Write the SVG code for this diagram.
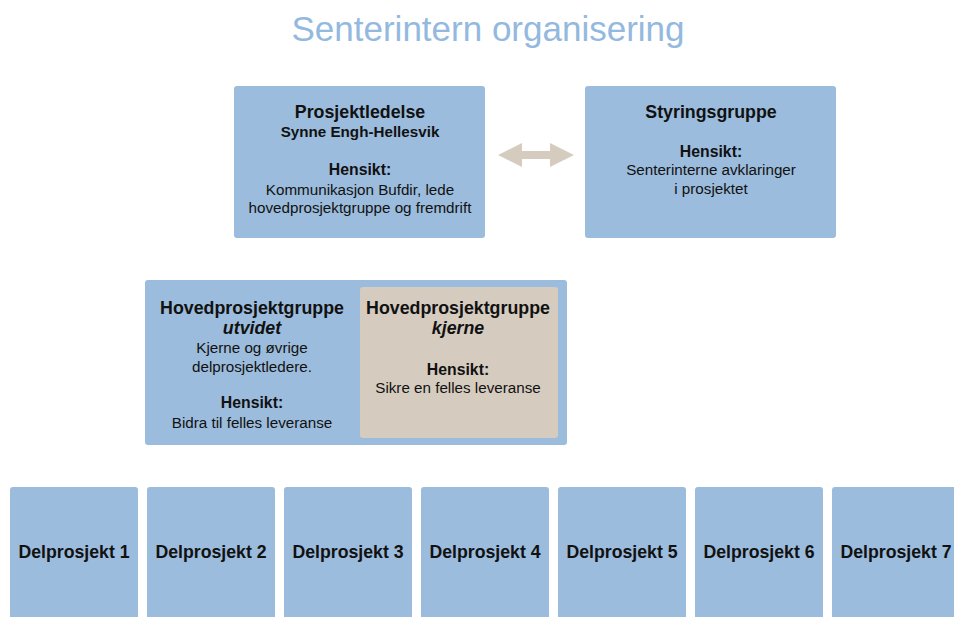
<svg xmlns="http://www.w3.org/2000/svg" width="954" height="617" viewBox="0 0 954 617">
<defs>
<style>
.box{fill:#9bbcdc;}
.core{fill:#d5ccbf;}
text{font-family:"Liberation Sans",Arial,Helvetica,sans-serif;fill:#111;text-anchor:middle;}
.title{font-size:35px;fill:#93b9df;}
.h{font-size:17.8px;font-weight:bold;}
.n{font-size:15.2px;font-weight:bold;}
.s{font-size:15.8px;font-weight:bold;}
.t{font-size:15.2px;}
.i{font-size:17.8px;font-weight:bold;font-style:italic;}
.d{font-size:17.7px;font-weight:bold;}
</style>
</defs>
<rect width="954" height="617" fill="#fff"/>
<text class="title" x="488" y="41">Senterintern organisering</text>

<g id="prosjektledelse">
<rect class="box" x="234" y="86" width="251" height="152" rx="3"/>
<text class="h" x="360" y="118">Prosjektledelse</text>
<text class="n" x="360" y="137">Synne Engh-Hellesvik</text>
<text class="s" x="360" y="175">Hensikt:</text>
<text class="t" x="360" y="195">Kommunikasjon Bufdir, lede</text>
<text class="t" x="360" y="213">hovedprosjektgruppe og fremdrift</text>
</g>

<g id="styringsgruppe">
<rect class="box" x="585" y="86" width="251" height="152" rx="3"/>
<text class="h" x="711" y="118">Styringsgruppe</text>
<text class="s" x="711" y="157">Hensikt:</text>
<text class="t" x="711" y="175">Senterinterne avklaringer</text>
<text class="t" x="711" y="194">i prosjektet</text>
</g>

<g id="connectors">
<polygon fill="#d5ccbf" points="498,155 522,143 522,151 550,151 550,143 574,155 550,167 550,159 522,159 522,167"/>
</g>

<g id="hovedprosjektgruppe-utvidet">
<rect class="box" x="145" y="280" width="422" height="165" rx="3"/>
<text class="h" x="252" y="314">Hovedprosjektgruppe</text>
<text class="i" x="252" y="334">utvidet</text>
<text class="t" x="252" y="353">Kjerne og øvrige</text>
<text class="t" x="252" y="372">delprosjektledere.</text>
<text class="s" x="252" y="408">Hensikt:</text>
<text class="t" x="252" y="428">Bidra til felles leveranse</text>
</g>

<g id="hovedprosjektgruppe-kjerne">
<rect class="core" x="360" y="287" width="198" height="151" rx="3"/>
<text class="h" x="458" y="314">Hovedprosjektgruppe</text>
<text class="i" x="458" y="334">kjerne</text>
<text class="s" x="458" y="375">Hensikt:</text>
<text class="t" x="458" y="393">Sikre en felles leveranse</text>
</g>

<g id="delprosjekt-1"><rect class="box" x="10" y="487" width="128" height="140" rx="3"/><text class="d" x="74" y="558">Delprosjekt 1</text></g>
<g id="delprosjekt-2"><rect class="box" x="147" y="487" width="128" height="140" rx="3"/><text class="d" x="211" y="558">Delprosjekt 2</text></g>
<g id="delprosjekt-3"><rect class="box" x="284" y="487" width="128" height="140" rx="3"/><text class="d" x="348" y="558">Delprosjekt 3</text></g>
<g id="delprosjekt-4"><rect class="box" x="421" y="487" width="128" height="140" rx="3"/><text class="d" x="485" y="558">Delprosjekt 4</text></g>
<g id="delprosjekt-5"><rect class="box" x="558" y="487" width="128" height="140" rx="3"/><text class="d" x="622" y="558">Delprosjekt 5</text></g>
<g id="delprosjekt-6"><rect class="box" x="695" y="487" width="128" height="140" rx="3"/><text class="d" x="759" y="558">Delprosjekt 6</text></g>
<g id="delprosjekt-7"><rect class="box" x="832" y="487" width="135" height="140" rx="3"/><text class="d" x="896" y="558">Delprosjekt 7</text></g>
</svg>
